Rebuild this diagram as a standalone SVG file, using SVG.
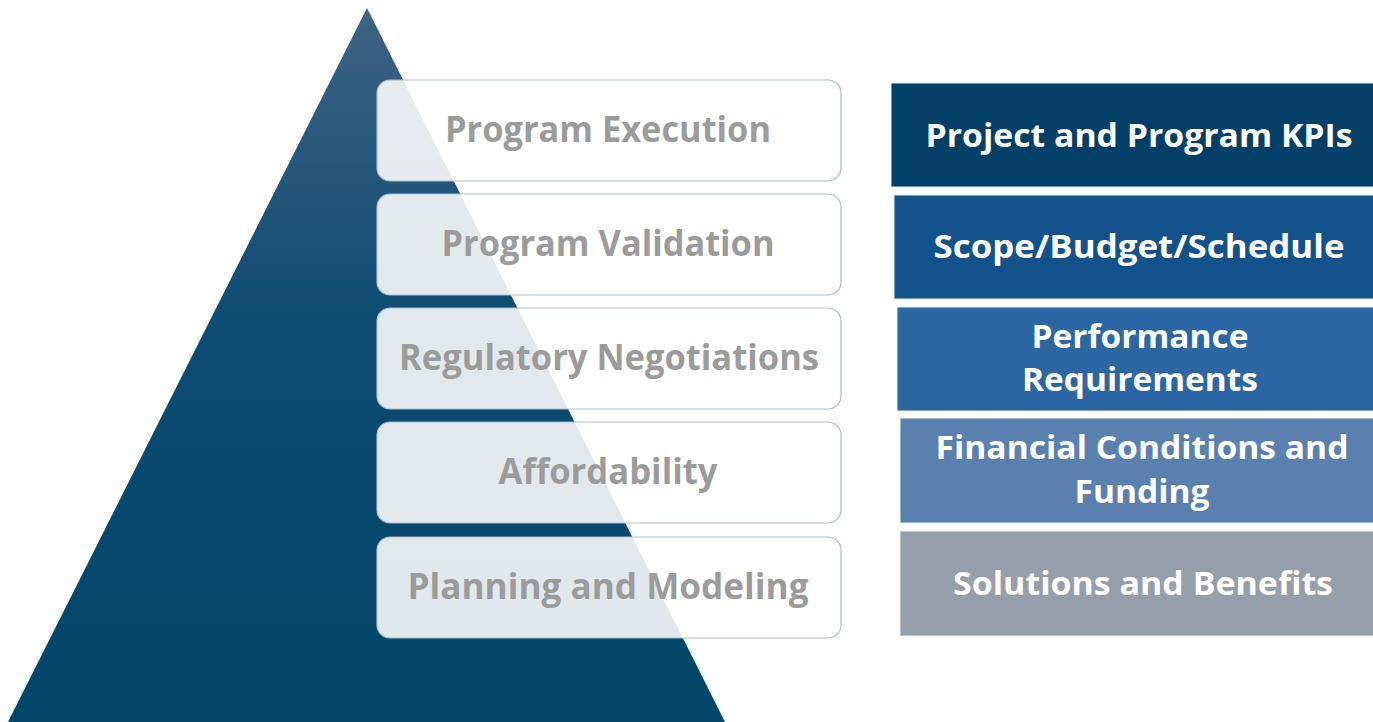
<svg xmlns="http://www.w3.org/2000/svg" width="1373" height="722" viewBox="0 0 1373 722">
<defs>
<linearGradient id="pg" x1="0" y1="0" x2="0" y2="1">
<stop offset="0" stop-color="#3f6383"/>
<stop offset="0.45" stop-color="#0d4b72"/>
<stop offset="1" stop-color="#04456a"/>
</linearGradient>
</defs>
<style>
.lb{fill:#ffffff;fill-opacity:0.88;stroke:#a9bfd0;stroke-width:1.2}
.lt{font-family:"Open Sans","Liberation Sans",sans-serif;font-weight:bold;font-size:36px;fill:#9b9b9b;text-anchor:middle}
.rt{font-family:"Open Sans","Liberation Sans",sans-serif;font-weight:bold;font-size:32px;fill:#ffffff;text-anchor:middle}
.rb{stroke:#e6ebf0;stroke-width:1}
</style>
<rect width="1373" height="722" fill="#ffffff"/>
<g id="pyramid"><polygon points="367,8 8,722 725,722" fill="url(#pg)"/></g>
<g id="left1"><rect class="lb" x="377" y="80" width="464" height="101" rx="13"/><text class="lt" x="608" y="142" textLength="326" lengthAdjust="spacingAndGlyphs">Program Execution</text></g>
<g id="left2"><rect class="lb" x="377" y="194" width="464" height="101" rx="13"/><text class="lt" x="608" y="256" textLength="333" lengthAdjust="spacingAndGlyphs">Program Validation</text></g>
<g id="left3"><rect class="lb" x="377" y="308" width="464" height="101" rx="13"/><text class="lt" x="609" y="370" textLength="420" lengthAdjust="spacingAndGlyphs">Regulatory Negotiations</text></g>
<g id="left4"><rect class="lb" x="377" y="422" width="464" height="101" rx="13"/><text class="lt" x="608" y="484" textLength="219" lengthAdjust="spacingAndGlyphs">Affordability</text></g>
<g id="left5"><rect class="lb" x="377" y="537" width="464" height="101" rx="13"/><text class="lt" x="608" y="599" textLength="401" lengthAdjust="spacingAndGlyphs">Planning and Modeling</text></g>
<g id="right1"><rect class="rb" x="891" y="83" width="483" height="104" fill="#033f66"/><text class="rt" x="1139" y="147" textLength="427" lengthAdjust="spacingAndGlyphs">Project and Program KPIs</text></g>
<g id="right2"><rect class="rb" x="894" y="195" width="480" height="104" fill="#13528a"/><text class="rt" x="1139" y="258" textLength="411" lengthAdjust="spacingAndGlyphs">Scope/Budget/Schedule</text></g>
<g id="right3"><rect class="rb" x="897" y="307" width="477" height="104" fill="#2c67a4"/><text class="rt" x="1140" y="348" textLength="217" lengthAdjust="spacingAndGlyphs">Performance</text><text class="rt" x="1140" y="391" textLength="236" lengthAdjust="spacingAndGlyphs">Requirements</text></g>
<g id="right4"><rect class="rb" x="900" y="418" width="474" height="105" fill="#5a80b0"/><text class="rt" x="1142" y="459" textLength="413" lengthAdjust="spacingAndGlyphs">Financial Conditions and</text><text class="rt" x="1142" y="503" textLength="135" lengthAdjust="spacingAndGlyphs">Funding</text></g>
<g id="right5"><rect class="rb" x="900" y="531" width="474" height="105" fill="#959eab"/><text class="rt" x="1143" y="595" textLength="380" lengthAdjust="spacingAndGlyphs">Solutions and Benefits</text></g>
<g id="connectors"/>
</svg>
